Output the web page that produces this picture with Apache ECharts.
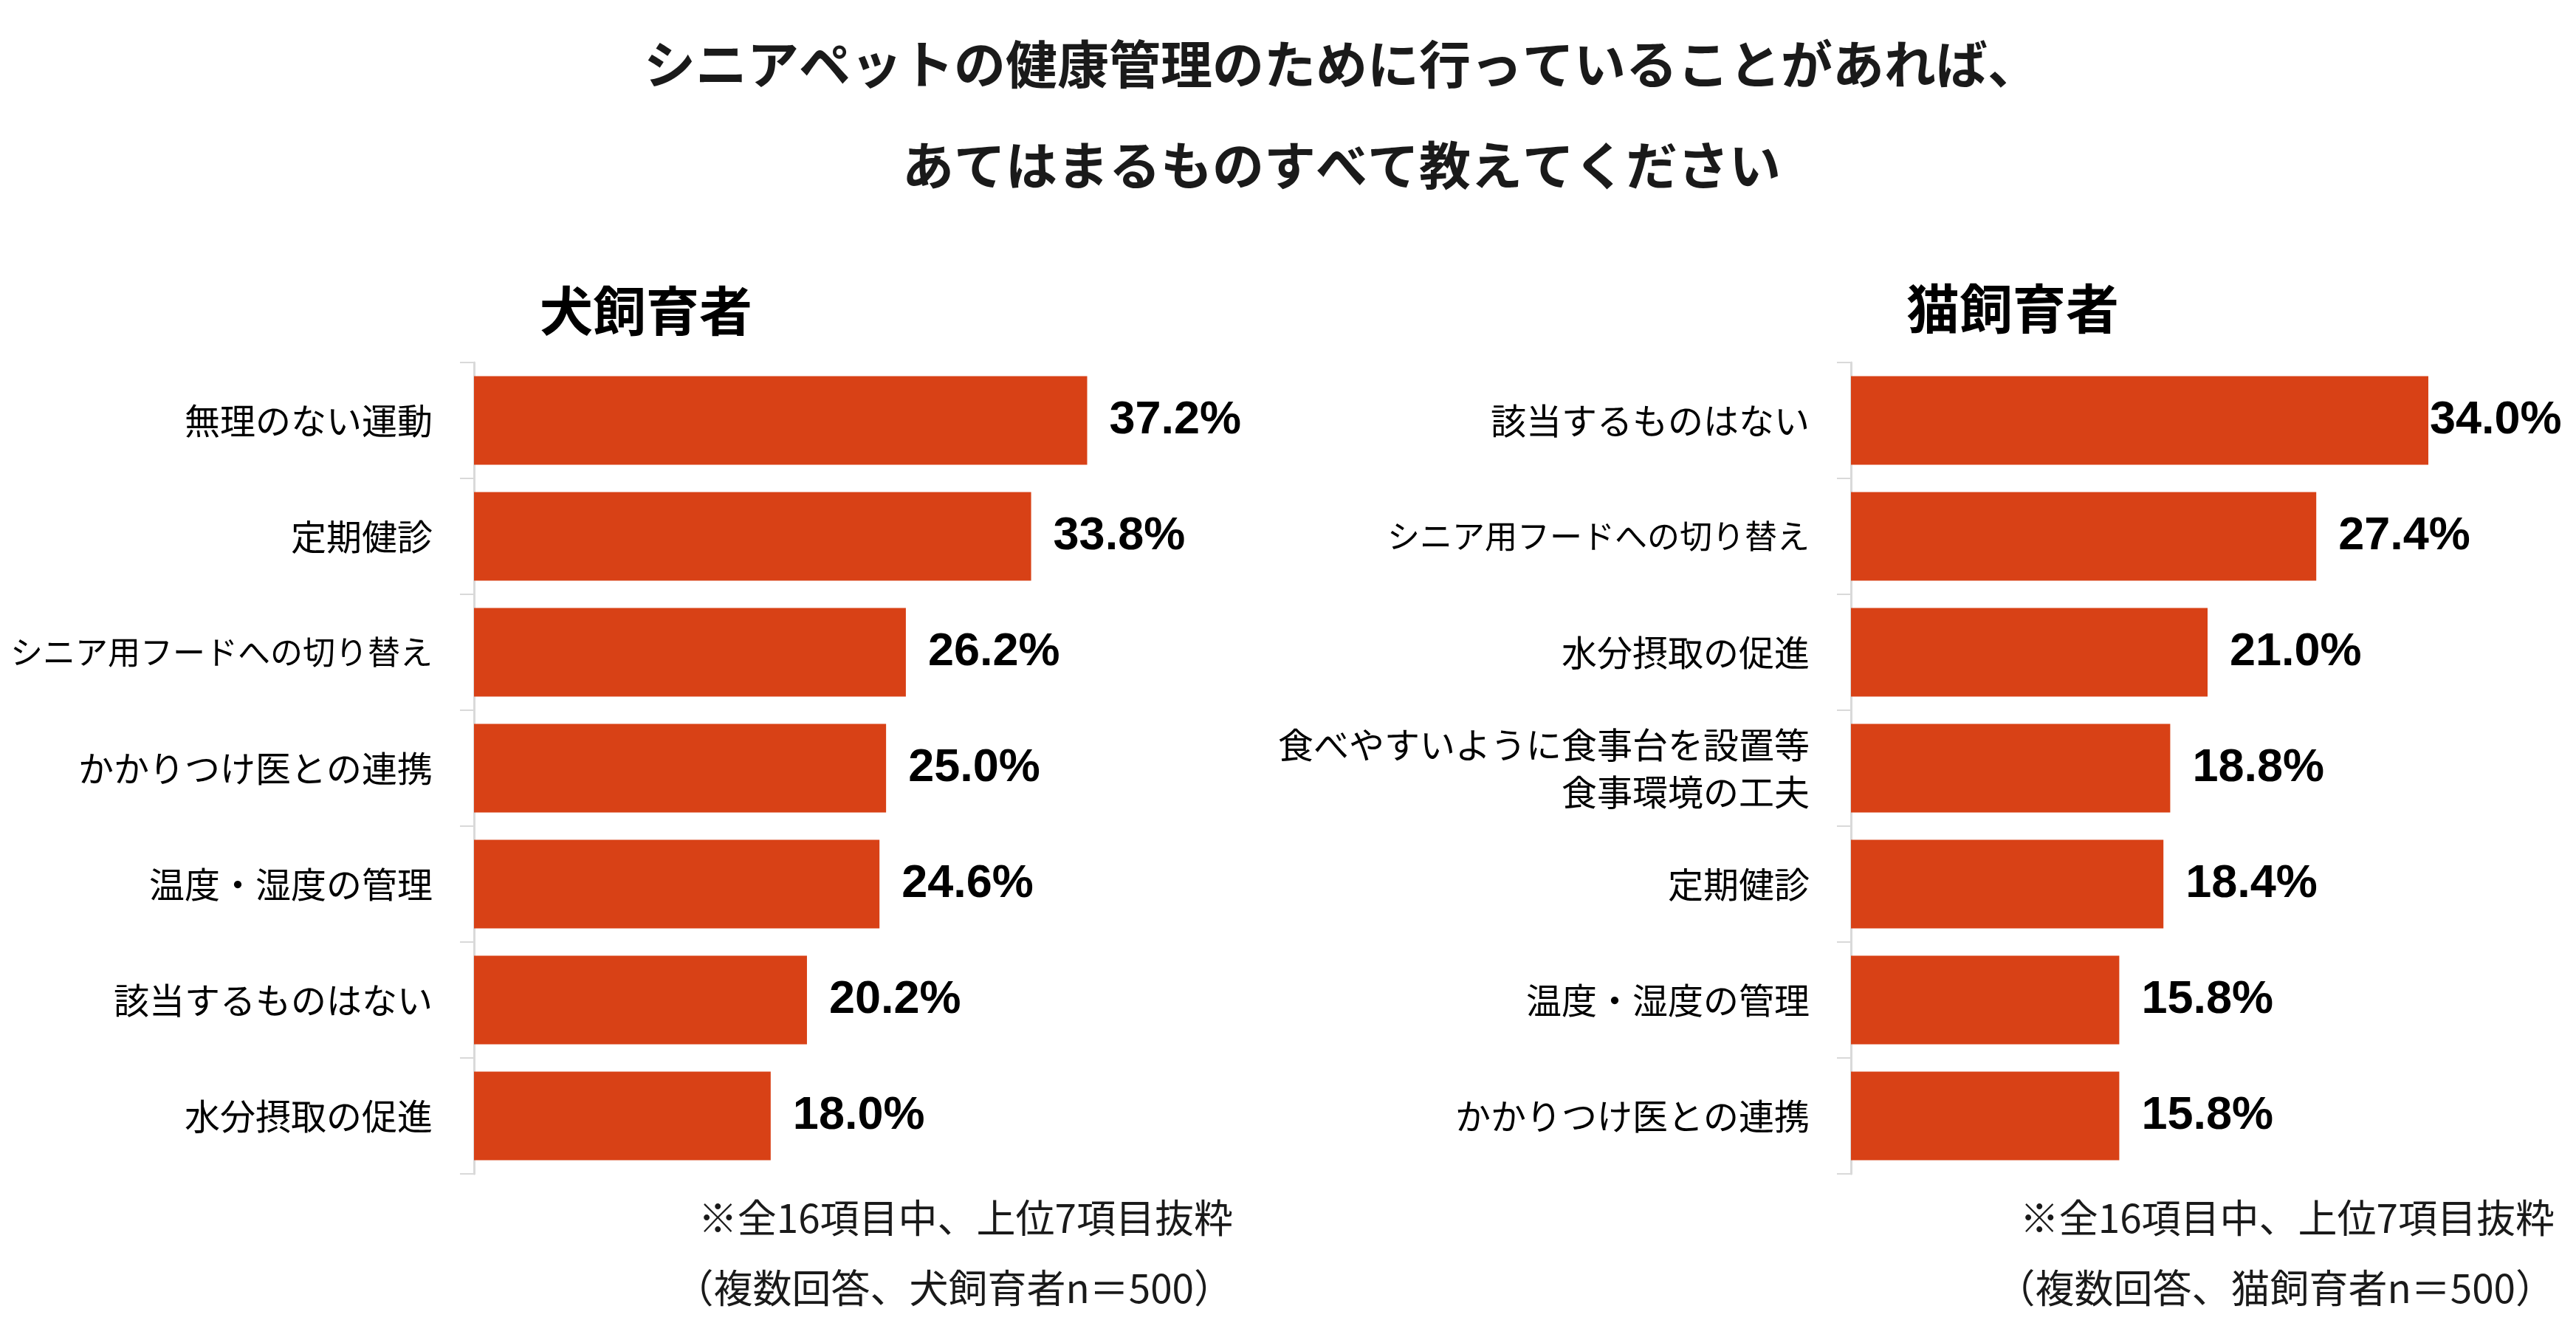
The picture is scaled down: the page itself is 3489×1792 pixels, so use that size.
<!DOCTYPE html>
<html>
<head>
<meta charset="utf-8">
<script src="https://cdn.jsdelivr.net/npm/echarts@6/dist/echarts.min.js"></script>
<style>
  html, body { margin: 0; padding: 0; background: #fff; }
  #main { width: 3489px; height: 1792px; }
</style>
</head>
<body>
<div id="main"></div>
<script>
// 犬飼育者
const dogCategories = ["無理のない運動", "定期健診", "シニア用フードへの切り替え", "かかりつけ医との連携", "温度・湿度の管理", "該当するものはない", "水分摂取の促進"];
const dogValues = [37.2, 33.8, 26.2, 25.0, 24.6, 20.2, 18.0];
// 猫飼育者
const catCategories = ["該当するものはない", "シニア用フードへの切り替え", "水分摂取の促進", "食べやすいように食事台を設置等\n食事環境の工夫", "定期健診", "温度・湿度の管理", "かかりつけ医との連携"];
const catValues = [34.0, 27.4, 21.0, 18.8, 18.4, 15.8, 15.8];

const titleLines = ["シニアペットの健康管理のために行っていることがあれば、", "あてはまるものすべて教えてください"];
const dogNotes = ["※全16項目中、上位7項目抜粋", "（複数回答、犬飼育者n＝500）"];
const catNotes = ["※全16項目中、上位7項目抜粋", "（複数回答、猫飼育者n＝500）"];

const BAR_COLOR = "#d84116";
const JP = "'Noto Sans CJK JP', sans-serif";

let chart = echarts.init(document.getElementById("main"));

function yAxisFor(gridIndex, cats) {
  return {
    type: "category",
    gridIndex: gridIndex,
    // 長いラベルだけ少し小さく(元図はカナが詰まったフォント)
    data: cats.map(function (c) {
      if (c.length > 12 && c.indexOf("\n") < 0) return { value: c, textStyle: { fontSize: 44 } };
      return c;
    }),
    inverse: true,
    axisLine: { show: true, lineStyle: { color: "#d9d9d9", width: 3 } },
    axisTick: { show: true, length: 19, lineStyle: { color: "#d9d9d9", width: 2 } },
    axisLabel: {
      fontSize: 48,
      fontFamily: JP,
      color: "#000",
      margin: 56,
      lineHeight: 64,
      align: "right",
    },
    splitLine: { show: false },
  };
}

function barSeries(idx, values, first) {
  return {
    type: "bar",
    xAxisIndex: idx,
    yAxisIndex: idx,
    barCategoryGap: "23.6%",
    itemStyle: { color: BAR_COLOR },
    data: values.map(function (v, i) {
      // 右端で切れないように、猫の1本目だけラベルを寄せる
      if (first && i === 0) return { value: v, label: { distance: 2 } };
      return v;
    }),
    label: {
      show: true,
      position: "right",
      distance: 30,
      fontFamily: "'Liberation Sans', Arial, sans-serif",
      fontWeight: "bold",
      fontSize: 63,
      color: "#000",
      formatter: function (p) {
        return p.value.toFixed(1) + "%";
      },
    },
  };
}

function noteText(lines, x) {
  return lines.map(function (t, i) {
    return {
      type: "text",
      x: x,
      y: 1650 + i * 95,
      style: {
        text: t,
        font: "53px " + JP,
        fill: "#1a1a1a",
        align: "right",
        verticalAlign: "middle",
      },
    };
  });
}

let option = {
  animation: false,
  backgroundColor: "#fff",
  title: [
    {
      text: titleLines.join("\n"),
      left: 1812,
      top: 14,
      textAlign: "center",
      textStyle: { fontFamily: JP, fontSize: 70, fontWeight: "bold", color: "#1a1a1a", lineHeight: 137 },
    },
    {
      text: "犬飼育者",
      left: 870,
      top: 380,
      textAlign: "center",
      textStyle: { fontFamily: JP, fontSize: 72, fontWeight: "bold", color: "#000" },
    },
    {
      text: "猫飼育者",
      left: 2721,
      top: 377,
      textAlign: "center",
      textStyle: { fontFamily: JP, fontSize: 72, fontWeight: "bold", color: "#000" },
    },
  ],
  grid: [
    { left: 642, top: 491, width: 893, height: 1099 },
    { left: 2507, top: 491, width: 920, height: 1099 },
  ],
  xAxis: [
    { type: "value", gridIndex: 0, min: 0, max: 40, show: false },
    { type: "value", gridIndex: 1, min: 0, max: 40, show: false },
  ],
  yAxis: [yAxisFor(0, dogCategories), yAxisFor(1, catCategories)],
  series: [barSeries(0, dogValues, false), barSeries(1, catValues, true)],
  graphic: noteText(dogNotes, 1670).concat(noteText(catNotes, 3460)),
};

chart.setOption(option);
</script>
</body>
</html>
